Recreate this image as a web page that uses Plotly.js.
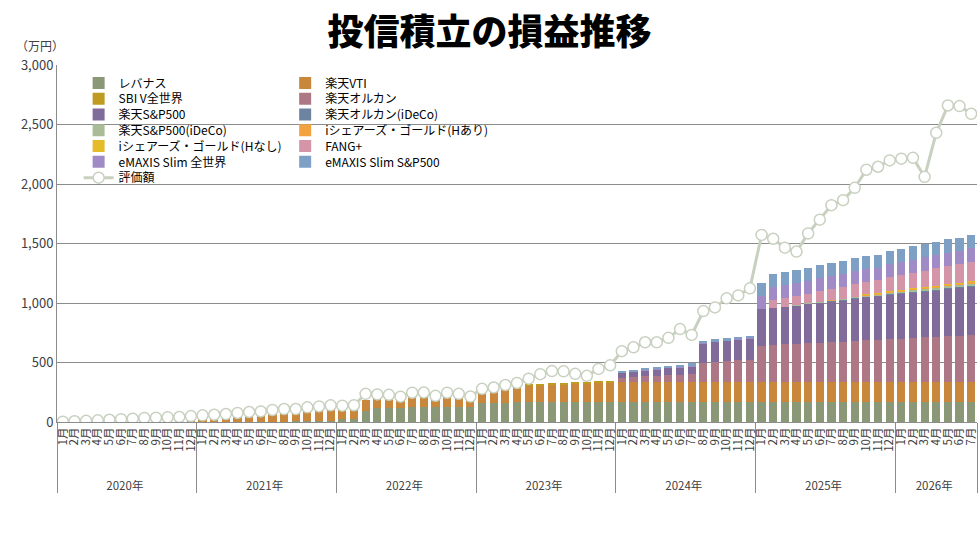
<!DOCTYPE html>
<html>
<head>
<meta charset="utf-8">
<script src="https://cdn.plot.ly/plotly-3.0.1.min.js"></script>
<style>
  body { margin: 0; background: #ffffff; }
  #chart { width: 979px; height: 536px; }
</style>
</head>
<body>
<div id="chart"></div>
<script>
// 年と各年の月数
var years = ['2020年', '2021年', '2022年', '2023年', '2024年', '2025年', '2026年'];
var monthCounts = [12, 12, 12, 12, 12, 12, 7];

// 各ファンドの積立額（万円）
var levanas = [
    0,0,0,0,0,0,0,0,0,0,0,0,
    0,0,0,0,0,0,0,4,6,7,9,11,
    28,28,95,120,120,120,125,125,125,125,125,125,
    160,160,160,170,170,170,170,170,170,170,170,170,
    170,170,170,170,170,170,170,170,170,170,170,170,
    170,170,170,170,170,170,170,170,170,170,170,170,
    170,170,170,170,170,170,170];
var rakutenVTI = [
    0,0,0,0,0,0,0,0,10,18,24,32,
    39,45,53,57,62,67,72,72,78,83,86,89,
    84,84,87,92,92,73,97,85,85,91,85,127,
    94,103,125,135,136,136,143,143,149,149,156,156,
    170,170,170,170,170,170,170,170,170,170,170,170,
    170,170,170,170,170,170,170,170,170,170,170,170,
    170,170,170,170,170,170,170];
var sbiV = [
    0,0,0,0,0,0,0,0,0,0,0,0,
    0,0,0,0,0,0,0,0,0,0,0,0,
    0,0,0,0,0,0,0,0,0,0,0,0,
    0,0,0,0,15,15,17,17,18,19,20,20,
    0,0,0,0,0,0,0,0,0,0,0,0,
    0,0,0,0,0,0,0,0,0,0,0,0,
    0,0,0,0,0,0,0];
var rakutenAllCountry = [
    0,0,0,0,0,0,0,0,0,0,0,0,
    0,0,0,0,0,0,0,0,0,0,0,0,
    0,0,0,0,0,0,0,0,0,0,0,0,
    0,0,0,0,0,0,0,0,0,0,0,0,
    32,41,46,49,57,57,65,155,167,169,177,177,
    298,307,315,315,324,324,332,332,340,349,349,357,
    357,366,374,374,382,382,391];
var rakutenSP500 = [
    0,0,0,0,0,0,0,0,0,0,0,0,
    0,0,0,0,0,0,0,0,0,0,0,0,
    0,0,0,0,0,0,0,0,0,0,0,0,
    0,0,0,0,0,0,0,0,0,0,0,0,
    38,40,46,50,53,59,61,161,162,170,174,182,
    313,313,313,320,324,332,337,346,352,358,366,370,
    377,380,382,389,396,402,406];
var allCountryIdeco = [
    0,0,0,0,0,0,0,0,0,0,0,0,
    0,0,0,0,0,0,0,0,0,0,0,0,
    0,0,0,0,0,0,0,0,0,0,0,0,
    0,0,0,0,0,0,0,0,0,0,0,0,
    0,0,0,0,0,0,0,0,0,0,0,0,
    0,0,0,0,3,4,5,6,7,7,7,8,
    8,8,9,9,10,10,10];
var sp500Ideco = [
    0,0,0,0,0,0,0,0,0,0,0,0,
    0,0,0,0,0,0,0,0,0,0,0,0,
    0,0,0,0,0,0,0,0,0,0,0,0,
    0,0,0,0,0,0,0,0,0,0,0,0,
    0,0,0,0,0,0,0,0,0,0,0,0,
    0,0,0,5,5,6,6,6,8,9,8,9,
    12,12,13,14,14,15,16];
var goldHedged = [
    0,0,0,0,0,0,0,0,0,0,0,0,
    0,0,0,0,0,0,0,0,0,0,0,0,
    0,0,0,0,0,0,0,0,0,0,0,0,
    0,0,0,0,0,0,0,0,0,0,0,0,
    0,0,0,0,0,0,0,0,0,0,0,0,
    0,0,0,0,0,0,4,5,4,6,8,8,
    9,10,11,12,12,13,14];
var goldUnhedged = [
    0,0,0,0,0,0,0,0,0,0,0,0,
    0,0,0,0,0,0,0,0,0,0,0,0,
    0,0,0,0,0,0,0,0,0,0,0,0,
    0,0,0,0,0,0,0,0,0,0,0,0,
    0,0,0,0,0,0,0,0,0,0,0,0,
    0,0,0,0,0,0,0,0,3,4,5,5,
    5,7,7,8,9,9,10];
var fangPlus = [
    0,0,0,0,0,0,0,0,0,0,0,0,
    0,0,0,0,0,0,0,0,0,0,0,0,
    0,0,0,0,0,0,0,0,0,0,0,0,
    0,0,0,0,0,0,0,0,0,0,0,0,
    0,0,0,0,0,0,0,0,0,0,0,0,
    0,67,76,79,82,95,95,99,105,107,108,124,
    128,130,136,148,147,153,159];
var slimAllCountry = [
    0,0,0,0,0,0,0,0,0,0,0,0,
    0,0,0,0,0,0,0,0,0,0,0,0,
    0,0,0,0,0,0,0,0,0,0,0,0,
    0,0,0,0,0,0,0,0,0,0,0,0,
    4,3,5,5,5,5,5,5,5,5,4,5,
    109,109,109,110,109,110,111,112,109,107,107,110,
    108,108,115,112,112,117,118];
var slimSP500 = [
    0,0,0,0,0,0,0,0,0,0,0,0,
    0,0,0,0,0,0,0,0,0,0,0,0,
    0,0,0,0,0,0,0,0,0,0,0,0,
    0,0,0,0,0,0,0,0,0,0,0,0,
    17,16,19,22,18,20,24,21,25,24,21,19,
    112,109,109,107,107,106,106,104,108,109,109,106,
    109,117,109,109,117,109,109];

// 評価額（万円）
var valuation = [
    3,6,10,14,19,24,28,34,36,39,42,50,
    56,61,67,76,84,89,101,109,109,123,131,140,
    137,141,237,232,228,213,246,248,220,246,237,214,
    279,290,311,328,364,402,428,426,405,388,446,476,
    595,628,670,670,707,781,732,932,963,1039,1064,1123,
    1572,1540,1465,1432,1585,1700,1822,1864,1968,2120,2145,2198,
    2213,2220,2060,2430,2660,2655,2590];

// 2段のカテゴリ軸（年・月）
// 年ラベルは月ラベルから少し離すため先頭に空行を入れる
var xYear = [];
var xMonth = [];
for (var i = 0; i < years.length; i++) {
    for (var m = 1; m <= monthCounts[i]; m++) {
        xYear.push('<br>' + years[i]);
        xMonth.push(m + '月');
    }
}
var xCat = [xYear, xMonth];

var fontJP = 'Noto Sans CJK JP, sans-serif';

// 凡例は2列に並べるため、項目ごとに別の legend を使う
function legendId(k) {
    return k === 0 ? 'legend' : 'legend' + (k + 1);
}

function barTrace(k, name, values, color) {
    return {
        type: 'bar',
        name: name,
        x: xCat,
        y: values,
        marker: { color: color },
        legend: legendId(k),
        hoverinfo: 'skip'
    };
}

var data = [
    barTrace(0, 'レバナス', levanas, '#8b9878'),
    barTrace(1, '楽天VTI', rakutenVTI, '#c8873a'),
    barTrace(2, 'SBI V全世界', sbiV, '#bf9b22'),
    barTrace(3, '楽天オルカン', rakutenAllCountry, '#ad7785'),
    barTrace(4, '楽天S&P500', rakutenSP500, '#806b9b'),
    barTrace(5, '楽天オルカン(iDeCo)', allCountryIdeco, '#6c84a0'),
    barTrace(6, '楽天S&P500(iDeCo)', sp500Ideco, '#a9bc98'),
    barTrace(7, 'iシェアーズ・ゴールド(Hあり)', goldHedged, '#f2a23f'),
    barTrace(8, 'iシェアーズ・ゴールド(Hなし)', goldUnhedged, '#e6bb2a'),
    barTrace(9, 'FANG+', fangPlus, '#d495a8'),
    barTrace(10, 'eMAXIS Slim 全世界', slimAllCountry, '#a08bc6'),
    barTrace(11, 'eMAXIS Slim S&P500', slimSP500, '#7fa0c5'),
    {
        type: 'scatter',
        mode: 'lines+markers',
        name: '評価額',
        x: xCat,
        y: valuation,
        line: { color: '#c8d1c0', width: 3 },
        marker: { symbol: 'circle', size: 11, color: '#ffffff', line: { color: '#c8d1c0', width: 1.5 } },
        legend: legendId(12),
        hoverinfo: 'skip'
    }
];

var layout = {
    width: 979,
    height: 536,
    margin: { t: 65, r: 2, l: 57, b: 114 },
    paper_bgcolor: '#ffffff',
    plot_bgcolor: '#ffffff',
    font: { family: fontJP, color: '#404040', size: 12 },
    barmode: 'stack',
    bargap: 0.3,
    title: {
        text: '投信積立の損益推移',
        font: { family: fontJP, size: 36, color: '#000000', weight: 900 },
        x: 0.5,
        xanchor: 'center',
        y: 0.94,
        yanchor: 'middle'
    },
    xaxis: {
        type: 'multicategory',
        range: [-0.5, 78.5],
        tickmode: 'linear',
        tick0: 0,
        dtick: 1,
        tickangle: -90,
        tickfont: { size: 11.5, color: '#404040' },
        showdividers: true,
        dividercolor: '#8c8c8c',
        dividerwidth: 1,
        showline: true,
        linecolor: '#8c8c8c',
        linewidth: 1,
        ticks: '',
        showgrid: false,
        automargin: false
    },
    yaxis: {
        range: [0, 3000],
        dtick: 500,
        tickformat: ',d',
        tickfont: { size: 13, color: '#404040' },
        gridcolor: '#8c8c8c',
        gridwidth: 1,
        showline: true,
        linecolor: '#8c8c8c',
        zeroline: false,
        ticks: '',
        automargin: false
    },
    showlegend: true,
    annotations: [
        {
            xref: 'paper', yref: 'paper',
            x: -0.047, y: 1.055,
            xanchor: 'left', yanchor: 'middle',
            text: '（万円）',
            showarrow: false,
            font: { family: fontJP, size: 12, color: '#404040' }
        }
    ]
};

// 凡例の配置: 左右2列、行間は約15.8px
for (var k = 0; k < data.length; k++) {
    var col = k % 2;
    var row = Math.floor(k / 2);
    var yPx = 83 + row * 15.8;
    layout[legendId(k)] = {
        x: col === 0 ? 0.0235 : 0.248,
        y: (422.5 - yPx) / 357.5,
        xanchor: 'left',
        yanchor: 'middle',
        bgcolor: 'rgba(0,0,0,0)',
        font: { family: fontJP, size: 12, color: '#000000' },
        itemwidth: 30
    };
}

Plotly.newPlot('chart', data, layout, { displayModeBar: false, staticPlot: true });
</script>
</body>
</html>
